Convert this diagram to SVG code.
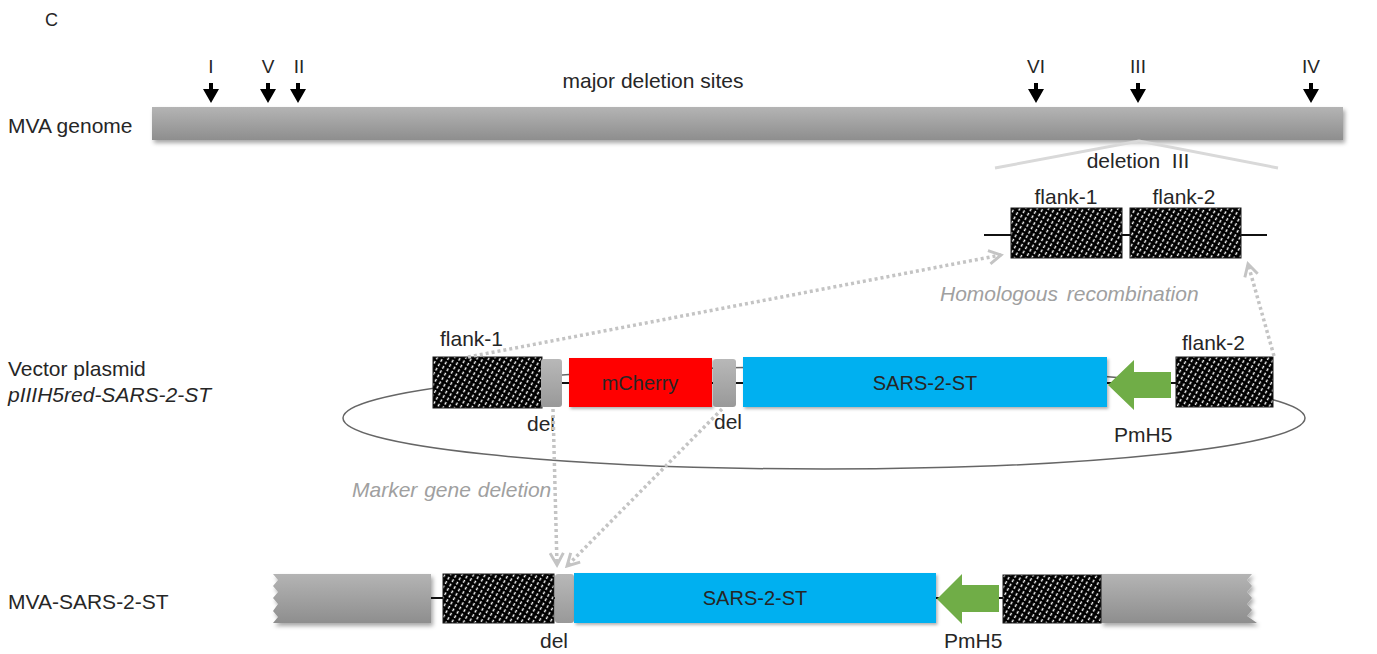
<svg xmlns="http://www.w3.org/2000/svg" width="1377" height="654" viewBox="0 0 1377 654">
  <style>
    text { font-family: "Liberation Sans", Arial, sans-serif; fill: #262626; }
    .lbl { font-size: 21px; }
    .num { font-size: 19px; text-anchor: middle; }
    .mid { text-anchor: middle; }
    .note { font-size: 21px; font-style: italic; fill: #a0a0a0; }
    .hatch { fill: url(#hatch); stroke: #1a1a1a; stroke-width: 1; }
    .bar { fill: url(#grayGrad); filter: url(#shadow); }
    .del { fill: url(#delGrad); }
    .wire { stroke: #111; stroke-width: 2; fill: none; }
    .dot { stroke: #c4c4c4; stroke-width: 3.5; stroke-dasharray: 3 3; fill: none; marker-end: url(#chevron); }
    .site { fill: #000; }
    .green { fill: #70ad47; }
  </style>
  <defs>
    <linearGradient id="grayGrad" x1="0" y1="0" x2="0" y2="1">
      <stop offset="0" stop-color="#b4b4b4"/>
      <stop offset="1" stop-color="#8e8e8e"/>
    </linearGradient>
    <linearGradient id="delGrad" x1="0" y1="0" x2="0" y2="1">
      <stop offset="0" stop-color="#b8b8b8"/>
      <stop offset="1" stop-color="#999"/>
    </linearGradient>
    <pattern id="hatch" width="5" height="5" patternUnits="userSpaceOnUse" patternTransform="rotate(30)">
      <rect width="5" height="5" fill="#000"/>
      <line x1="2.5" y1="0" x2="2.5" y2="5" stroke="#fff" stroke-width="1.4" stroke-dasharray="3 2"/>
    </pattern>
    <filter id="shadow" x="-5%" y="-30%" width="110%" height="170%">
      <feDropShadow dx="2" dy="3" stdDeviation="2" flood-color="#000" flood-opacity="0.35"/>
    </filter>
    <filter id="soft" x="-5%" y="-20%" width="110%" height="150%">
      <feDropShadow dx="1.5" dy="2" stdDeviation="1.5" flood-color="#000" flood-opacity="0.3"/>
    </filter>
    <marker id="chevron" viewBox="0 0 12 12" refX="10" refY="6" markerWidth="16" markerHeight="16" markerUnits="userSpaceOnUse" orient="auto">
      <path d="M1,1 L10,6 L1,11" fill="none" stroke="#c4c4c4" stroke-width="2.2"/>
    </marker>
  </defs>

  <text x="45" y="26" style="font-size:18px">C</text>

  <!-- MVA genome with major deletion sites -->
  <g id="genome">
    <text class="lbl" x="8" y="133">MVA genome</text>
    <rect class="bar" x="152" y="107" width="1191" height="33"/>
    <text class="lbl mid" x="653" y="88">major deletion sites</text>
  </g>
  <g id="sites">
    <text class="num" x="211" y="73">I</text>
    <text class="num" x="268" y="73">V</text>
    <text class="num" x="299" y="73">II</text>
    <text class="num" x="1036" y="73">VI</text>
    <text class="num" x="1138" y="73">III</text>
    <text class="num" x="1311" y="73">IV</text>
    <path class="site" d="M209,83h4v6h6l-8,14l-8,-14h6z"/>
    <path class="site" d="M266,83h4v6h6l-8,14l-8,-14h6z"/>
    <path class="site" d="M296,83h4v6h6l-8,14l-8,-14h6z"/>
    <path class="site" d="M1034,83h4v6h6l-8,14l-8,-14h6z"/>
    <path class="site" d="M1136,83h4v6h6l-8,14l-8,-14h6z"/>
    <path class="site" d="M1309,83h4v6h6l-8,14l-8,-14h6z"/>
  </g>

  <!-- zoom into deletion III -->
  <g id="deletion3">
    <path d="M995,168 L1139,141 L1278,168" fill="none" stroke="#d9d9d9" stroke-width="3"/>
    <text class="lbl mid" x="1138" y="168" xml:space="preserve">deletion  III</text>
  </g>

  <!-- flanking regions in the genome -->
  <g id="genome-flanks">
    <line class="wire" x1="984" y1="235" x2="1267" y2="235"/>
    <rect class="hatch" x="1011" y="208" width="111" height="50"/>
    <rect class="hatch" x="1130" y="208" width="111" height="50"/>
    <text class="lbl mid" x="1066" y="204">flank-1</text>
    <text class="lbl mid" x="1184" y="204">flank-2</text>
  </g>

  <!-- vector plasmid -->
  <g id="plasmid">
    <text class="lbl" x="8" y="376">Vector plasmid</text>
    <text class="lbl" x="8" y="402" font-style="italic">pIIIH5red-SARS-2-ST</text>
    <ellipse cx="824" cy="418" rx="481" ry="51" fill="none" stroke="#666" stroke-width="1.5"/>
    <line class="wire" x1="541" y1="383" x2="1176" y2="383"/>
    <rect class="hatch" x="433" y="357" width="109" height="51"/>
    <rect class="del" x="541" y="359" width="21" height="48" rx="3"/>
    <rect x="569" y="358" width="143" height="49" fill="#ff0000" filter="url(#soft)"/>
    <text class="mid" x="640" y="390" style="font-size:20px">mCherry</text>
    <rect class="del" x="713" y="359" width="23" height="48" rx="3"/>
    <rect x="743" y="357" width="364" height="50" fill="#00b0f0" filter="url(#soft)"/>
    <text class="mid" x="925" y="390" style="font-size:20px">SARS-2-ST</text>
    <path class="green" d="M1108,385 L1134,360 L1134,372 L1171,372 L1171,398 L1134,398 L1134,410 Z"/>
    <rect class="hatch" x="1176" y="357" width="97" height="50"/>
    <text class="lbl" x="440" y="346">flank-1</text>
    <text class="lbl" x="1182" y="350">flank-2</text>
    <text class="lbl" x="527" y="431">del</text>
    <text class="lbl" x="714" y="429">del</text>
    <text class="lbl" x="1114" y="442">PmH5</text>
  </g>

  <!-- recombinant virus -->
  <g id="recombinant">
    <text class="lbl" x="8" y="609">MVA-SARS-2-ST</text>
    <path class="bar" d="M273,574 L431,574 L431,623 L273,623 L278,617 L273,611 L278,604 L273,598 L278,592 L273,586 L278,580 Z"/>
    <path class="bar" d="M1101,574 L1252,574 L1247,580 L1252,586 L1247,592 L1252,598 L1247,604 L1252,610 L1247,616 L1257,623 L1101,623 Z"/>
    <line class="wire" x1="431" y1="598" x2="1003" y2="598"/>
    <rect class="hatch" x="443" y="574" width="111" height="49"/>
    <rect class="del" x="555" y="574" width="19" height="49" rx="3"/>
    <rect x="574" y="573" width="362" height="50" fill="#00b0f0" filter="url(#soft)"/>
    <text class="mid" x="755" y="605" style="font-size:20px">SARS-2-ST</text>
    <path class="green" d="M937,599 L962,574 L962,585 L999,585 L999,612 L962,612 L962,624 Z"/>
    <rect class="hatch" x="1003" y="575" width="98" height="48"/>
    <text class="lbl" x="540" y="648">del</text>
    <text class="lbl" x="944" y="648">PmH5</text>
  </g>

  <!-- recombination and marker deletion connectors -->
  <g id="connectors">
    <path class="dot" d="M468,357 L1001,255"/>
    <path class="dot" d="M1274,356 L1248,264"/>
    <path class="dot" d="M553,409 L557,565"/>
    <path class="dot" d="M722,409 L567,566"/>
    <text class="note" x="940" y="301" word-spacing="3">Homologous recombination</text>
    <text class="note" x="352" y="497" word-spacing="1">Marker gene deletion</text>
  </g>
</svg>
